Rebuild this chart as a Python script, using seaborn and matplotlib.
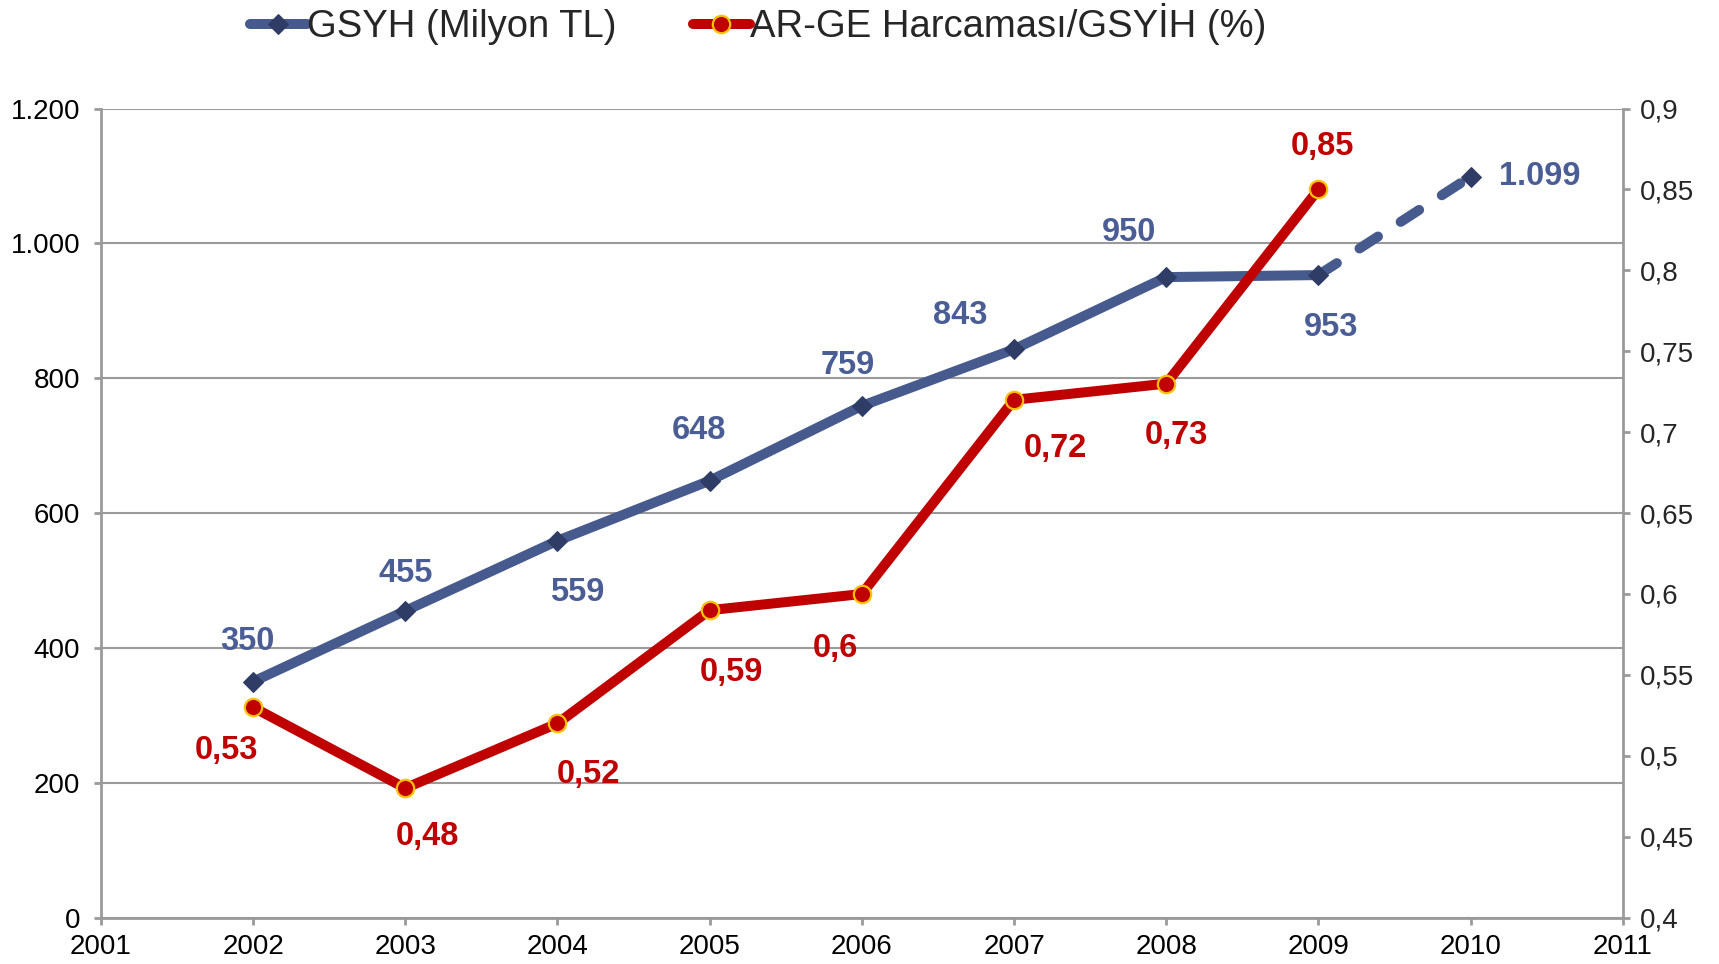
import pandas as pd
import matplotlib
matplotlib.use("Agg")
import matplotlib.pyplot as plt
import seaborn as sns
from matplotlib.ticker import FuncFormatter, MultipleLocator

# ===============================
# data
# ===============================
years = [2002, 2003, 2004, 2005, 2006, 2007, 2008, 2009]
gsyh = [350, 455, 559, 648, 759, 843, 950, 953]
proj_years = [2009, 2010]
proj_gsyh = [953, 1099]
arge = [0.53, 0.48, 0.52, 0.59, 0.60, 0.72, 0.73, 0.85]

gsyh_offsets = [(-4, 29), (0, 27), (14, -37), (-8, 36), (-10, 29),
                (-39, 24), (-27, 32), (9, -38), (50, 0)]
arge_offsets = [(-19, -31), (16, -35), (22, -37), (16, -45), (-19, -39),
                (30, -35), (7, -37), (3, 31)]

BLUE = "#475a8e"
BLUE_MK = "#2f3d66"
BLUE_TXT = "#4a5d95"
RED = "#c00000"
GOLD = "#ffc000"
GREY = "#9a9a9a"

df_g = pd.DataFrame({"year": years, "val": gsyh})
df_p = pd.DataFrame({"year": proj_years, "val": proj_gsyh})
df_r = pd.DataFrame({"year": years, "val": arge})

sns.set_style("white")
plt.rcParams["font.family"] = ["Liberation Sans", "DejaVu Sans"]

fig = plt.figure(figsize=(17.19, 9.64), dpi=100)
ax = fig.add_axes([0.0587, 0.0481, 0.9440 - 0.0587, 0.8874 - 0.0481])

LW = 7.2

# ===============================
# left axis: GSYH
# ===============================
sns.lineplot(data=df_p, x="year", y="val", ax=ax, color=BLUE, lw=LW,
             dashes=False, legend=False, zorder=3)
proj_line = ax.lines[-1]
proj_line.set_dashes((2.2, 2.7))
proj_line.set_dash_capstyle("round")
sns.lineplot(data=df_p.iloc[1:], x="year", y="val", ax=ax, color=BLUE, lw=0,
             marker="D", markersize=10, markerfacecolor=BLUE_MK,
             markeredgecolor=BLUE_MK, legend=False, zorder=4)
sns.lineplot(data=df_g, x="year", y="val", ax=ax, color=BLUE, lw=LW,
             marker="D", markersize=10, markerfacecolor=BLUE_MK,
             markeredgecolor=BLUE_MK, label="GSYH (Milyon TL)", legend=False,
             zorder=4)

all_years = years + proj_years[1:]
all_gsyh = gsyh + proj_gsyh[1:]
for x, y, off in zip(all_years, all_gsyh, gsyh_offsets):
    ax.annotate(f"{y:,}".replace(",", "."), (x, y), xytext=off,
                textcoords="offset points", ha="center", va="center",
                fontsize=23.5, fontweight="bold", color=BLUE_TXT, zorder=6)

ax.set_xlim(2001, 2011)
ax.set_ylim(0, 1200)
ax.xaxis.set_major_locator(MultipleLocator(1))
ax.yaxis.set_major_locator(MultipleLocator(200))
ax.yaxis.set_major_formatter(FuncFormatter(lambda v, p: f"{int(v):,}".replace(",", ".")))
ax.set_xlabel("")
ax.set_ylabel("")
ax.grid(axis="y", color=GREY, lw=1.5)
ax.grid(axis="x", visible=False)
ax.set_axisbelow(True)
for s in ["top", "right"]:
    ax.spines[s].set_visible(False)
for s in ["left", "bottom"]:
    ax.spines[s].set_color(GREY)
    ax.spines[s].set_linewidth(2)
ax.tick_params(axis="both", direction="out", length=5, width=2, color=GREY,
               labelsize=20, labelcolor="black")
ax.tick_params(axis="x", pad=7, bottom=True)
ax.tick_params(axis="y", pad=10, left=True)

# ===============================
# right axis: AR-GE / GSYH
# ===============================
ax2 = ax.twinx()
sns.lineplot(data=df_r, x="year", y="val", ax=ax2, color=RED, lw=LW,
             marker="o", markersize=12.5, markerfacecolor=RED,
             markeredgecolor=GOLD, markeredgewidth=1.6,
             label="AR-GE Harcaması/GSYİH (%)", legend=False, zorder=5)
for x, y, off in zip(years, arge, arge_offsets):
    ax2.annotate(f"{y:g}".replace(".", ","), (x, y), xytext=off,
                 textcoords="offset points", ha="center", va="center",
                 fontsize=23.5, fontweight="bold", color=RED, zorder=6)

ax2.set_ylim(0.4, 0.9)
ax2.yaxis.set_major_locator(MultipleLocator(0.05))
ax2.yaxis.set_major_formatter(FuncFormatter(lambda v, p: f"{round(v, 2):g}".replace(".", ",")))
ax2.set_ylabel("")
ax2.grid(False)
for s in ["top", "left", "bottom"]:
    ax2.spines[s].set_visible(False)
ax2.spines["right"].set_color(GREY)
ax2.spines["right"].set_linewidth(2)
ax2.tick_params(axis="y", direction="out", length=5, width=2, color=GREY,
                labelsize=20, pad=7, right=True)

# ===============================
# legend
# ===============================
h1, l1 = ax.get_legend_handles_labels()
h2, l2 = ax2.get_legend_handles_labels()
fig.legend(h1 + h2, l1 + l2, loc="center", bbox_to_anchor=(0.441, 0.975),
           ncol=2, frameon=False, fontsize=27.5, handlelength=1.5,
           handletextpad=0.0, columnspacing=2.0)

fig.savefig("out.png", dpi=100)
